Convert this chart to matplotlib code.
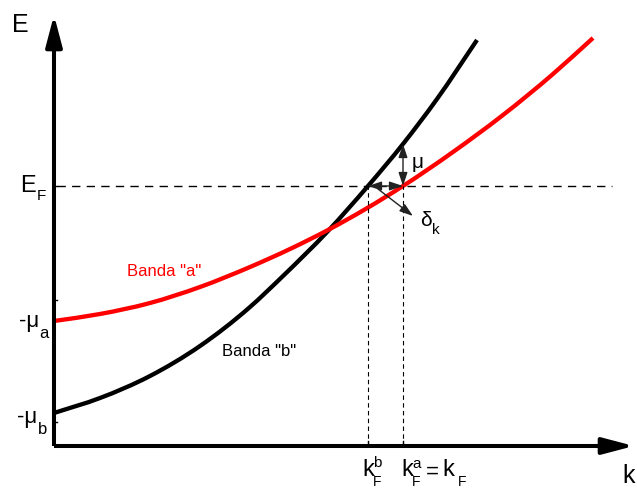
import matplotlib
matplotlib.use("Agg")
import matplotlib.pyplot as plt
from matplotlib.path import Path
from matplotlib.patches import PathPatch

plt.rcParams['font.family'] = ['Liberation Sans', 'DejaVu Sans']

# band "a" (red) and band "b" (black), k vs E
k_a = [0.00, 0.46, 0.96, 1.46, 1.96, 2.36, 2.74, 3.49, 3.99, 4.49, 4.99, 5.39]
E_a = [1.25, 1.32, 1.43, 1.59, 1.79, 1.97, 2.16, 2.60, 2.94, 3.31, 3.72, 4.08]
k_b = [0.00, 0.46, 0.96, 1.46, 1.96, 2.29, 2.74, 3.14, 3.49, 3.83, 4.23]
E_b = [0.33, 0.48, 0.70, 1.00, 1.39, 1.70, 2.15, 2.60, 3.02, 3.47, 4.06]

E_F = 2.60
kF_b = 3.14
kF_a = 3.49
mu_a = 1.25
mu_b = 0.33
E_top = 3.02   # band b at kF_a


def smooth_curve(xs, ys):
    # cubic Hermite segments through the points, as a bezier path
    n = len(xs)
    slopes = []
    for i in range(n):
        if i == 0:
            s = (ys[1] - ys[0]) / (xs[1] - xs[0])
        elif i == n - 1:
            s = (ys[-1] - ys[-2]) / (xs[-1] - xs[-2])
        else:
            s1 = (ys[i] - ys[i - 1]) / (xs[i] - xs[i - 1])
            s2 = (ys[i + 1] - ys[i]) / (xs[i + 1] - xs[i])
            h1 = xs[i] - xs[i - 1]
            h2 = xs[i + 1] - xs[i]
            s = (s1 * h2 + s2 * h1) / (h1 + h2)
        slopes.append(s)
    verts = [(xs[0], ys[0])]
    codes = [Path.MOVETO]
    for i in range(n - 1):
        h = xs[i + 1] - xs[i]
        verts += [(xs[i] + h / 3, ys[i] + slopes[i] * h / 3),
                  (xs[i + 1] - h / 3, ys[i + 1] - slopes[i + 1] * h / 3),
                  (xs[i + 1], ys[i + 1])]
        codes += [Path.CURVE4] * 3
    return Path(verts, codes)


fig = plt.figure(figsize=(6.37, 4.88), dpi=100)
ax = fig.add_axes([0, 0, 1, 1])
ax.set_xlim(-0.54, 5.83)
ax.set_ylim(-0.42, 4.46)
ax.axis('off')

# axes with arrows
ax.plot([0, 0], [0, 4.0], color='k', lw=2.9, solid_capstyle='butt')
ax.plot([0, 5.6], [0, 0], color='k', lw=2.9, solid_capstyle='butt')
ax.annotate('', xy=(0, 4.31), xytext=(0, 3.9),
            arrowprops=dict(arrowstyle='-|>,head_length=0.95,head_width=0.25',
                            color='k', lw=2.9, mutation_scale=20, shrinkA=0, shrinkB=0))
ax.annotate('', xy=(5.80, 0), xytext=(5.4, 0),
            arrowprops=dict(arrowstyle='-|>,head_length=0.95,head_width=0.25',
                            color='k', lw=2.9, mutation_scale=20, shrinkA=0, shrinkB=0))

# small ticks
for y in [E_F, 1.46, 0.24]:
    ax.plot([0, 0.03], [y, y], color='k', lw=1)
for x in [kF_b, kF_a]:
    ax.plot([x, x], [0, 0.05], color='k', lw=1)

# Fermi level and kF guides
ax.plot([0.03, 5.58], [E_F, E_F], color='k', lw=1.0, dashes=(6, 4.5))
ax.plot([kF_b, kF_b], [0, E_F], color='k', lw=0.8, dashes=(4, 3))
ax.plot([kF_a, kF_a], [0, E_F], color='k', lw=0.8, dashes=(4, 3))

# bands
ax.add_patch(PathPatch(smooth_curve(k_b, E_b), fill=False, edgecolor='k',
                       lw=3.1, capstyle='butt'))
ax.add_patch(PathPatch(smooth_curve(k_a, E_a), fill=False, edgecolor='#ff0000',
                       lw=3.1, capstyle='butt'))

# mu, delta k arrows
head = dict(color='#222222', lw=1.0, mutation_scale=9, shrinkA=0, shrinkB=0)
ax.annotate('', xy=(kF_a, E_F), xytext=(kF_a, E_top),
            arrowprops=dict(arrowstyle='<|-|>,head_length=0.9,head_width=0.3', **head))
ax.annotate('', xy=(kF_a, E_F), xytext=(kF_b, E_F),
            arrowprops=dict(arrowstyle='<|-|>,head_length=0.9,head_width=0.3', **head))
ax.annotate('', xy=(3.59, 2.30), xytext=(3.24, 2.57),
            arrowprops=dict(arrowstyle='-|>,head_length=0.9,head_width=0.3', **head))

ax.text(kF_a + 0.09, 2.83, 'μ', fontsize=15, ha='left', va='center')
ax.text(3.66, 2.26, 'δ', fontsize=15, ha='left', va='center')
ax.text(3.78, 2.16, 'k', fontsize=11, ha='left', va='center')

ax.text(1.10, 1.75, 'Banda "a"', color='#ff0000', fontsize=12, ha='center', va='center')
ax.text(2.05, 0.94, 'Banda "b"', color='k', fontsize=12, ha='center', va='center')

# axis labels
ax.text(-0.34, 4.21, 'E', fontsize=18, ha='center', va='center')
ax.text(5.75, -0.30, 'k', fontsize=18, ha='center', va='center')
ax.text(-0.26, E_F, 'E', fontsize=17, ha='center', va='center')
ax.text(-0.13, E_F - 0.10, 'F', fontsize=11, ha='center', va='center')
ax.text(-0.25, mu_a, '-μ', fontsize=16, ha='center', va='center')
ax.text(-0.10, mu_a - 0.12, 'a', fontsize=12, ha='center', va='center')
ax.text(-0.27, mu_b - 0.05, '-μ', fontsize=16, ha='center', va='center')
ax.text(-0.11, mu_b - 0.16, 'b', fontsize=12, ha='center', va='center')

ax.text(kF_b, -0.24, 'k', fontsize=17, ha='center', va='center')
ax.text(kF_b + 0.09, -0.17, 'b', fontsize=11, ha='center', va='center')
ax.text(kF_b + 0.09, -0.355, 'F', fontsize=10, ha='center', va='center')
ax.text(kF_a + 0.04, -0.24, 'k', fontsize=17, ha='center', va='center')
ax.text(kF_a + 0.14, -0.18, 'a', fontsize=11, ha='center', va='center')
ax.text(kF_a + 0.13, -0.355, 'F', fontsize=10, ha='center', va='center')
ax.text(kF_a + 0.29, -0.26, '=', fontsize=16, ha='center', va='center')
ax.text(kF_a + 0.45, -0.24, 'k', fontsize=17, ha='center', va='center')
ax.text(kF_a + 0.59, -0.355, 'F', fontsize=10, ha='center', va='center')

fig.savefig('out.png', dpi=100)
